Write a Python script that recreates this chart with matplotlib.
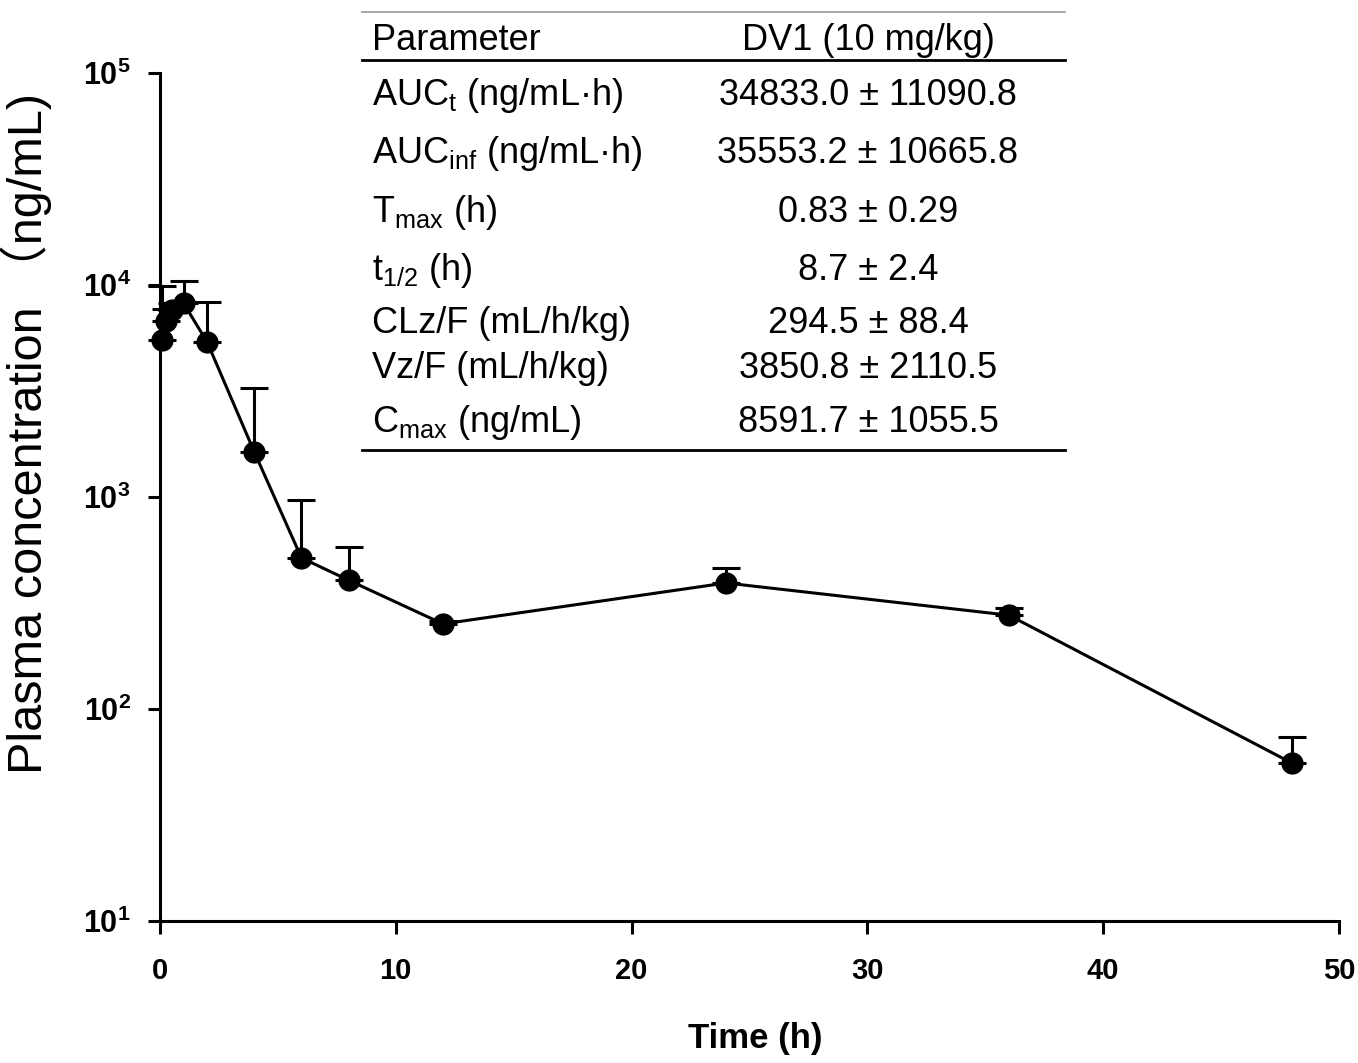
import matplotlib
matplotlib.use("Agg")
import matplotlib.pyplot as plt
from matplotlib.lines import Line2D
from matplotlib.ticker import NullLocator
import numpy as np

# ===== Data =====
time_h = [0.083, 0.25, 0.5, 1, 2, 4, 6, 8, 12, 24, 36, 48]
conc_mean = [5500, 6800, 7600, 8200, 5380, 1630, 516, 405, 252, 393, 277, 55.6]
conc_sd = [4400, 900, 600, 2200, 2900, 1640, 452, 175, 8, 69, 22, 18]

y_ticks = [1e1, 1e2, 1e3, 1e4, 1e5]
y_tick_labels = [r"$\mathbf{10^{1}}$", r"$\mathbf{10^{2}}$", r"$\mathbf{10^{3}}$",
                 r"$\mathbf{10^{4}}$", r"$\mathbf{10^{5}}$"]
x_ticks = [0, 10, 20, 30, 40, 50]

table_header = ["Parameter", "DV1 (10 mg/kg)"]
table_params = [r"AUC$_{\mathrm{t}}$ (ng/mL·h)", r"AUC$_{\mathrm{inf}}$ (ng/mL·h)",
                r"T$_{\mathrm{max}}$ (h)", r"t$_{\mathrm{1/2}}$ (h)",
                "CLz/F (mL/h/kg)", "Vz/F (mL/h/kg)", r"C$_{\mathrm{max}}$ (ng/mL)"]
table_values = ["34833.0 ± 11090.8", "35553.2 ± 10665.8", "0.83 ± 0.29",
                "8.7 ± 2.4", "294.5 ± 88.4", "3850.8 ± 2110.5", "8591.7 ± 1055.5"]

# ===== Style =====
plt.rcParams["font.family"] = ["Liberation Sans", "Noto Sans CJK SC", "DejaVu Sans"]
plt.rcParams["mathtext.fontset"] = "custom"
plt.rcParams["mathtext.rm"] = "Liberation Sans"
plt.rcParams["mathtext.it"] = "Liberation Sans:italic"
plt.rcParams["mathtext.bf"] = "Liberation Sans:bold"

W, H = 1358, 1063
fig = plt.figure(figsize=(W / 100, H / 100), dpi=100)
ax = fig.add_axes([160 / W, 1 - 921 / H, (1339 - 160) / W, (921 - 73) / H])

lw = 2.2
ax.errorbar(time_h, conc_mean, yerr=[np.zeros(len(conc_sd)), conc_sd],
            fmt="-o", color="black", lw=lw, markersize=15, elinewidth=lw,
            capsize=10, capthick=lw, clip_on=False, zorder=3)

ax.set_yscale("log")
ax.set_ylim(10, 1e5)
ax.set_xlim(0, 50)
ax.set_yticks(y_ticks)
ax.set_yticklabels(y_tick_labels)
ax.yaxis.set_minor_locator(NullLocator())
ax.set_xticks(x_ticks)

for s in ["top", "right"]:
    ax.spines[s].set_visible(False)
for s in ["left", "bottom"]:
    ax.spines[s].set_linewidth(lw)

ax.tick_params(axis="both", direction="out", length=9, width=lw)
ax.tick_params(axis="x", pad=17, labelsize=21)
ax.tick_params(axis="y", pad=12, labelsize=22)
for lab in ax.get_xticklabels():
    lab.set_fontweight("bold")

ax.set_xlabel("Time (h)", fontsize=25, fontweight="bold")
ax.xaxis.set_label_coords(0.505, -0.119)
ax.set_ylabel("Plasma concentration \uff08ng/mL)", fontsize=35)
ax.yaxis.set_label_coords(-0.092, 0.575)

# ===== Inset parameter table =====
x0, x1 = 362 / W, 1065 / W
def fy(py):
    return 1 - py / H

fig.add_artist(Line2D([x0, x1], [fy(12), fy(12)], color="#999999", lw=1.2))
fig.add_artist(Line2D([x0, x1], [fy(60), fy(60)], color="black", lw=2))
fig.add_artist(Line2D([x0, x1], [fy(450), fy(450)], color="black", lw=2))

tfs = 26
col1 = 372 / W
col2 = 868 / W
fig.text(col1, fy(50), table_header[0], fontsize=tfs, va="baseline", ha="left")
fig.text(col2, fy(50), table_header[1], fontsize=tfs, va="baseline", ha="center")
row_base = [105, 163, 222, 280, 333, 378, 432]
for name, val, yb in zip(table_params, table_values, row_base):
    fig.text(col1, fy(yb), name, fontsize=tfs, va="baseline", ha="left")
    fig.text(col2, fy(yb), val, fontsize=tfs, va="baseline", ha="center")

fig.savefig("out.png", dpi=100)
plt.close(fig)
